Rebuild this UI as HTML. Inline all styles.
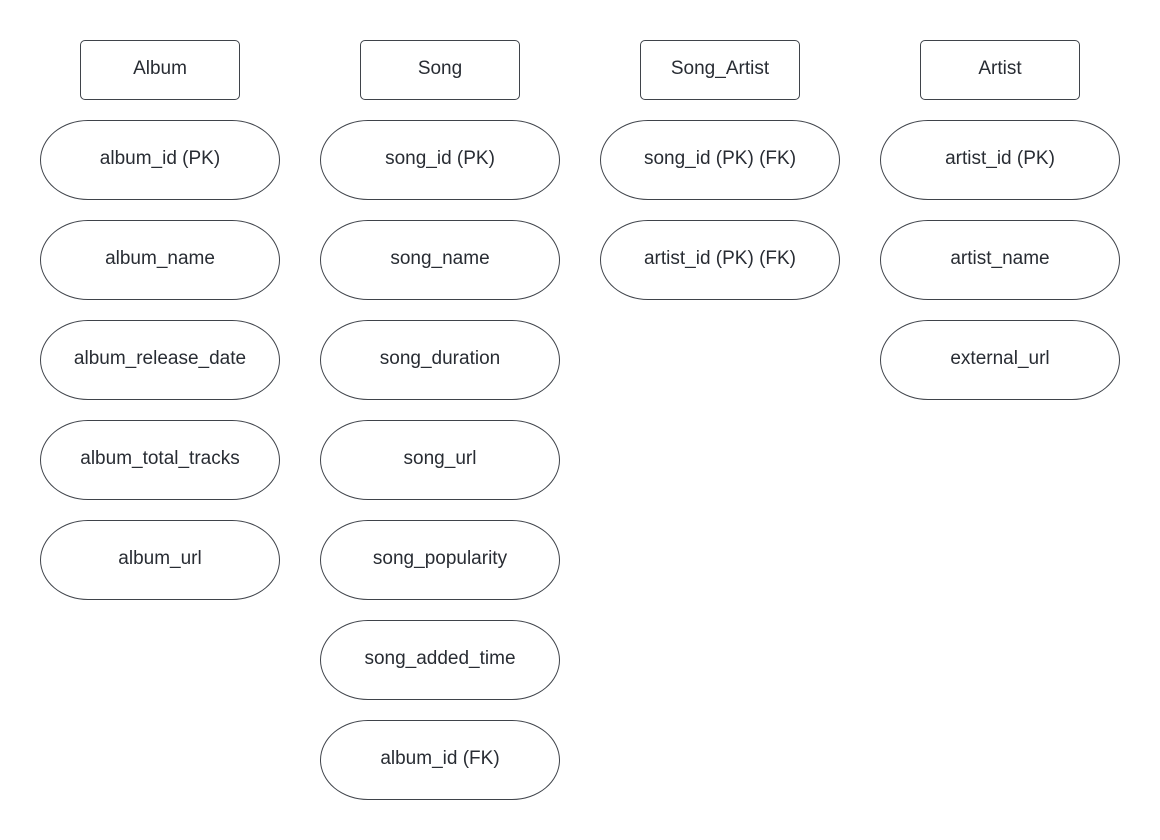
<!DOCTYPE html>
<html><head><style>
body{margin:0;width:1160px;height:840px;background:#fff;position:relative;font-family:"Liberation Sans",sans-serif;color:#282c33;}
.b{position:absolute;box-sizing:border-box;border:1px solid #3f434a;display:flex;align-items:center;justify-content:center;font-size:19px;padding-bottom:2px;}
.h{width:160px;height:60px;border-radius:5px;}
.p{width:240px;height:80px;border-radius:48px/40px;}
</style></head><body>
<div class="b h" style="left:80px;top:40px">Album</div>
<div class="b h" style="left:360px;top:40px">Song</div>
<div class="b h" style="left:640px;top:40px">Song_Artist</div>
<div class="b h" style="left:920px;top:40px">Artist</div>

<div class="b p" style="left:40px;top:120px">album_id (PK)</div>
<div class="b p" style="left:40px;top:220px">album_name</div>
<div class="b p" style="left:40px;top:320px">album_release_date</div>
<div class="b p" style="left:40px;top:420px">album_total_tracks</div>
<div class="b p" style="left:40px;top:520px">album_url</div>

<div class="b p" style="left:320px;top:120px">song_id (PK)</div>
<div class="b p" style="left:320px;top:220px">song_name</div>
<div class="b p" style="left:320px;top:320px">song_duration</div>
<div class="b p" style="left:320px;top:420px">song_url</div>
<div class="b p" style="left:320px;top:520px">song_popularity</div>
<div class="b p" style="left:320px;top:620px">song_added_time</div>
<div class="b p" style="left:320px;top:720px">album_id (FK)</div>

<div class="b p" style="left:600px;top:120px">song_id (PK) (FK)</div>
<div class="b p" style="left:600px;top:220px">artist_id (PK) (FK)</div>

<div class="b p" style="left:880px;top:120px">artist_id (PK)</div>
<div class="b p" style="left:880px;top:220px">artist_name</div>
<div class="b p" style="left:880px;top:320px">external_url</div>
</body></html>
